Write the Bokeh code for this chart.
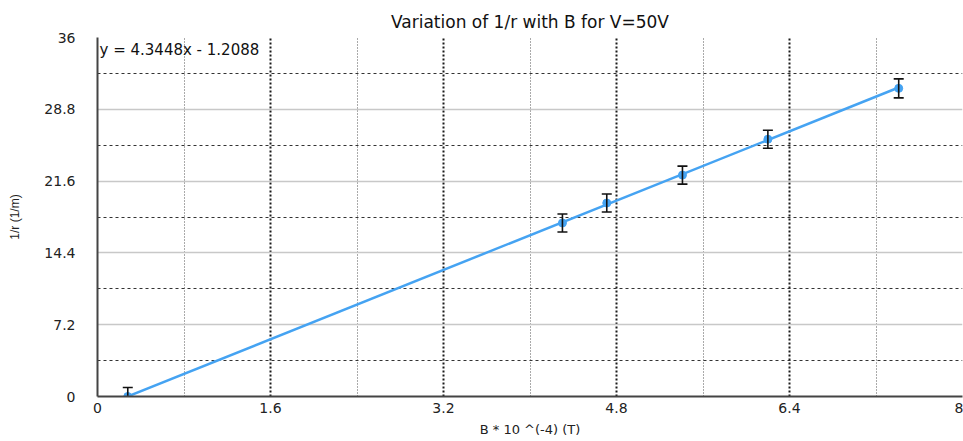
from bokeh.plotting import figure
from bokeh.models import Range1d, FixedTicker, Label, ColumnDataSource
from bokeh.embed import file_html
from bokeh.resources import INLINE

# data
B = [0.28, 4.30, 4.71, 5.41, 6.20, 7.41]
inv_r = [0.0, 17.4, 19.4, 22.2, 25.8, 30.9]
err = [0.9, 0.9, 0.9, 0.9, 0.9, 0.95]
slope = 4.3448
intercept = -1.2088
x_ticks = [0, 1.6, 3.2, 4.8, 6.4, 8]
x_minor = [0.8, 2.4, 4.0, 5.6, 7.2]
y_ticks = [0, 7.2, 14.4, 21.6, 28.8, 36]
y_minor = [3.6, 10.8, 18.0, 25.2, 32.4]

upper = [v + e for v, e in zip(inv_r, err)]
lower = [v - e for v, e in zip(inv_r, err)]
src = ColumnDataSource(dict(x=B, y=inv_r, up=upper, lo=lower))
fit_x = [min(B), max(B)]
fit_y = [slope * v + intercept for v in fit_x]

p = figure(width=963, height=441, output_backend="svg", toolbar_location=None,
           x_range=Range1d(0, 8), y_range=Range1d(0, 36),
           min_border_left=97, min_border_right=1, min_border_top=37, min_border_bottom=45,
           title="Variation of 1/r with B for V=50V")
p.outline_line_color = None
p.background_fill_color = "white"
p.title.align = "center"
p.title.text_font = "DejaVu Sans"
p.title.text_font_size = "17px"
p.title.text_font_style = "normal"
p.title.text_color = "#111111"
p.title.standoff = 11

p.xaxis.ticker = FixedTicker(ticks=x_ticks, minor_ticks=x_minor)
p.yaxis.ticker = FixedTicker(ticks=y_ticks, minor_ticks=y_minor)
p.xaxis.major_label_overrides = {8: "8"}
p.yaxis.major_label_overrides = {0: "0", 36: "36"}

for ax in (p.xaxis, p.yaxis):
    ax.major_tick_line_color = None
    ax.minor_tick_line_color = None
    ax.major_tick_out = 0
    ax.major_tick_in = 0
    ax.minor_tick_out = 0
    ax.axis_line_color = "#444444"
    ax.axis_line_width = 2
    ax.major_label_text_font = "DejaVu Sans"
    ax.major_label_text_font_size = "14px"
    ax.major_label_text_color = "#222222"
    ax.axis_label_text_font_style = "normal"
    ax.axis_label_text_color = "#222222"

p.xaxis.axis_label = "B * 10 ^(-4) (T)"
p.xaxis.axis_label_text_font = "DejaVu Sans"
p.xaxis.axis_label_text_font_size = "13px"
p.xaxis.major_label_standoff = 6
p.xaxis.axis_label_standoff = 6

p.yaxis.axis_label = "1/r (1/m)"
p.yaxis.axis_label_text_font = "Liberation Sans"
p.yaxis.axis_label_text_font_size = "12px"
p.yaxis.major_label_standoff = 22
p.yaxis.axis_label_standoff = 19

# grids
p.ygrid.grid_line_color = "#c8c8c8"
p.ygrid.grid_line_width = 1.5
p.ygrid.minor_grid_line_color = "#333333"
p.ygrid.minor_grid_line_dash = "3 3"
p.ygrid.minor_grid_line_width = 1.2

p.xgrid.grid_line_color = "#1a1a1a"
p.xgrid.grid_line_dash = "2 2"
p.xgrid.grid_line_width = 2
p.xgrid.minor_grid_line_color = "#555555"
p.xgrid.minor_grid_line_dash = "1 2"
p.xgrid.minor_grid_line_width = 1

# trendline and points
p.line(fit_x, fit_y, line_color="#45a3f2", line_width=2.5)
p.scatter("x", "y", source=src, size=8, fill_color="#45a3f2", line_color="#45a3f2")

# error bars
p.segment(x0="x", y0="lo", x1="x", y1="up", source=src, line_color="#111111", line_width=1.6)
p.scatter("x", "up", source=src, marker="dash", size=10, line_color="#111111", line_width=1.6)
p.scatter("x", "lo", source=src, marker="dash", size=10, line_color="#111111", line_width=1.6)

eq = Label(x=0, y=36, x_offset=2, y_offset=-3, text="y = %.4fx - %.4f" % (slope, -intercept),
           text_font="DejaVu Sans", text_font_size="15px", text_baseline="top",
           text_color="#111111")
p.add_layout(eq)

open("out.html", "w").write(file_html(p, INLINE))
